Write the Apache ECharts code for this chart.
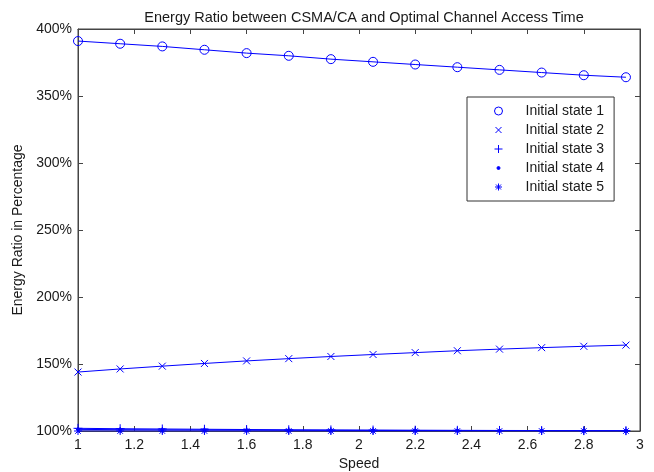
<!DOCTYPE html>
<html><head><meta charset="utf-8">
<script src="https://cdn.jsdelivr.net/npm/echarts@6/dist/echarts.min.js"></script>
<style>html,body{margin:0;padding:0;background:#fff}#c{width:654px;height:472px}</style>
</head><body><div id="c"></div>
<script>
var speeds = [1, 1.15, 1.3, 1.45, 1.6, 1.75, 1.9, 2.05, 2.2, 2.35, 2.5, 2.65, 2.8, 2.95];
var state1 = [391, 389, 387, 384.5, 382, 380, 377.5, 375.5, 373.5, 371.5, 369.5, 367.5, 365.5, 364];
var state2 = [144, 146.3, 148.4, 150.4, 152.3, 154, 155.6, 157.1, 158.5, 159.9, 161.1, 162.2, 163.2, 164.1];
var state3 = [102, 101.7, 101.5, 101.3, 101.1, 100.9, 100.8, 100.7, 100.6, 100.5, 100.4, 100.35, 100.3, 100.25];
var state4 = [101.2, 101, 100.9, 100.8, 100.7, 100.6, 100.5, 100.4, 100.35, 100.3, 100.25, 100.2, 100.15, 100.1];
var state5 = [100, 100, 100, 100, 100, 100, 100, 100, 100, 100, 100, 100, 100, 100];
var names = ['Initial state 1', 'Initial state 2', 'Initial state 3', 'Initial state 4', 'Initial state 5'];
var yTicks = [100, 150, 200, 250, 300, 350, 400];

var BLUE = '#0000ff';
var xPath = 'path://M0,0L10,10M10,0L0,10';
var plusPath = 'path://M5,0L5,10M0,5L10,5';
var starPath = 'path://M5,0L5,10M0,5L10,5M1.5,1.5L8.5,8.5M8.5,1.5L1.5,8.5';
var symbols = [
  {symbol: 'circle', size: 9, fill: 'transparent'},
  {symbol: xPath, size: 7, fill: 'transparent'},
  {symbol: plusPath, size: 9, fill: 'transparent'},
  {symbol: 'circle', size: 3, fill: BLUE},
  {symbol: starPath, size: 8, fill: 'transparent'}
];
// legend icons: a 43x12 box (corner moves) with the glyph centred at x=21
var B = 'path://M0,0M43,12';
var legendIcons = [
  B + 'M25,6A4,4,0,1,1,17,6A4,4,0,1,1,25,6Z',
  B + 'M18,3L24,9M24,3L18,9',
  B + 'M21,2L21,10M17,6L25,6',
  B + 'M22.5,6A1.5,1.5,0,1,1,19.5,6A1.5,1.5,0,1,1,22.5,6Z',
  B + 'M21,2.5L21,9.5M17.5,6L24.5,6M18.5,3.5L23.5,8.5M23.5,3.5L18.5,8.5'
];
var datasets = [state1, state2, state3, state4, state5];

function pairs(arr) { return speeds.map(function (s, i) { return [s, arr[i]]; }); }

var series = datasets.map(function (d, k) {
  var s = symbols[k];
  return {
    name: names[k], type: 'line', data: pairs(d),
    symbol: s.symbol, symbolSize: s.size, showAllSymbol: true,
    lineStyle: {color: BLUE, width: 1},
    itemStyle: {color: s.fill, borderColor: BLUE, borderWidth: 1},
    emphasis: {disabled: true}, animation: false, z: 5 - k
  };
});

var axisCol = '#444';
var txt = '#1a1a1a';
var font = 'Liberation Sans, Arial, sans-serif';
var chart = echarts.init(document.getElementById('c'), null, {renderer: 'canvas'});
chart.setOption({
  backgroundColor: '#fff',
  animation: false,
  title: {text: 'Energy Ratio between CSMA/CA and Optimal Channel Access Time', left: 359, textAlign: 'center', top: 5,
    textStyle: {fontFamily: font, fontSize: 14.5, fontWeight: 'normal', color: txt}},
  grid: {left: 78, right: 14, top: 29, bottom: 41, outerBoundsMode: 'none', containLabel: false,
    show: true, borderColor: axisCol, borderWidth: 1, backgroundColor: '#fff'},
  legend: {
    orient: 'vertical', left: 467, top: 97,
    padding: [7, 10, 7, 10], itemGap: 5, itemWidth: 43, itemHeight: 12,
    borderColor: '#333', borderWidth: 1, backgroundColor: '#fff',
    textStyle: {fontFamily: font, fontSize: 14, color: txt},
    data: names.map(function (n, k) {
      return {name: n, icon: legendIcons[k],
        itemStyle: {color: k === 3 ? BLUE : 'transparent', borderColor: BLUE, borderWidth: 1}};
    })
  },
  xAxis: [{
    type: 'value', min: 1, max: 3, interval: 0.2,
    name: 'Speed', nameLocation: 'middle', nameGap: 23,
    nameTextStyle: {fontFamily: font, fontSize: 14, color: txt},
    axisLine: {show: true, lineStyle: {color: axisCol}},
    axisTick: {show: true, inside: true, length: 5, lineStyle: {color: axisCol}},
    axisLabel: {fontFamily: font, fontSize: 14, color: txt, margin: 7,
      formatter: function (v) { return +v.toFixed(1) + ''; }},
    splitLine: {show: false}
  }, {
    type: 'value', min: 1, max: 3, interval: 0.2, position: 'top',
    axisLine: {show: true, lineStyle: {color: axisCol}},
    axisTick: {show: true, inside: true, length: 5, lineStyle: {color: axisCol}},
    axisLabel: {show: false}, splitLine: {show: false}
  }],
  yAxis: [{
    type: 'value', min: yTicks[0], max: yTicks[yTicks.length - 1], interval: 50,
    name: 'Energy Ratio in Percentage', nameLocation: 'middle', nameGap: 43,
    nameTextStyle: {fontFamily: font, fontSize: 14, color: txt},
    axisLine: {show: true, lineStyle: {color: axisCol}},
    axisTick: {show: true, inside: true, length: 5, lineStyle: {color: axisCol}},
    axisLabel: {fontFamily: font, fontSize: 14, color: txt, margin: 6, formatter: '{value}%'},
    splitLine: {show: false}
  }, {
    type: 'value', min: yTicks[0], max: yTicks[yTicks.length - 1], interval: 50, position: 'right',
    axisLine: {show: true, lineStyle: {color: axisCol}},
    axisTick: {show: true, inside: true, length: 5, lineStyle: {color: axisCol}},
    axisLabel: {show: false}, splitLine: {show: false}
  }],
  series: series
});
</script></body></html>
